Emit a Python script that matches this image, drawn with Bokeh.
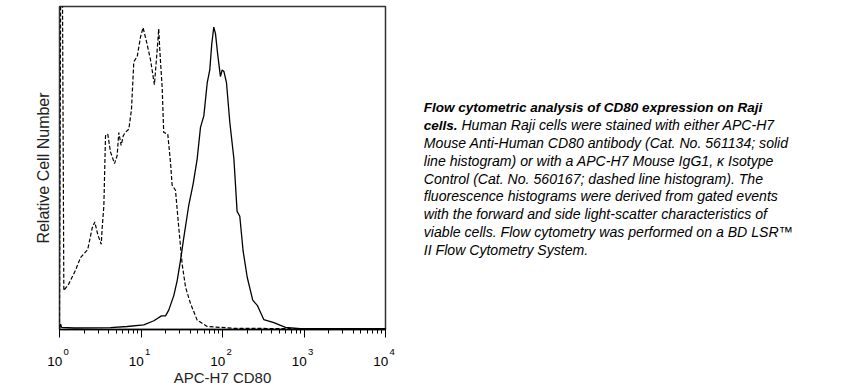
from bokeh.plotting import figure
from bokeh.models import Range1d, FixedTicker, ColumnDataSource, LogAxis
from bokeh.layouts import row
from bokeh.core.properties import value
from bokeh.embed import file_html
from bokeh.resources import INLINE

# ---- data ----
# solid histogram: APC-H7 CD80 stained
solid_x = [1.0, 1.03, 1.06, 1.5, 4.22, 6.77, 10.8, 14.4, 17.8, 20.0, 21.9, 25.3, 27.8, 30.5,
           33.5, 38.6, 43.7, 48.9, 53.7, 59.0, 64.9, 69.8, 73.9, 78.2, 82.0, 87.5, 94.4,
           99.1, 104, 112, 123, 138, 151, 163, 179, 201, 235, 267, 321, 426, 593, 906, 10000]
solid_y = [0, 1.5, 0.4, 0.2, 0.3, 0.7, 1.2, 2.6, 4.2, 4.2, 6.1, 11.0, 15.9, 22.5,
           30.1, 40.9, 48.0, 56.2, 66.6, 70.4, 81.3, 85.6, 94.3, 99.8, 97.6, 90.5, 83.4,
           85.6, 85.1, 81.3, 68.2, 56.2, 38.8, 37.2, 25.7, 17.0, 9.4, 7.7, 3.0, 2.0, 0.4, 0, 0]
# dashed histogram: isotype control
dash_x = [1.0, 1.04, 1.08, 1.13, 1.30, 1.57, 1.81, 2.22, 2.52, 2.71, 2.95, 3.25, 3.34, 3.50,
          3.67, 3.91, 4.22, 4.73, 5.10, 5.34, 5.71, 6.05, 6.46, 7.09, 7.64, 8.16, 8.98,
          9.86, 10.6, 11.7, 13.1, 14.6, 15.8, 16.5, 17.0, 18.2, 19.0, 21.3, 23.0, 24.1,
          26.5, 29.1, 32.0, 35.2, 40.5, 48.9, 64.9, 138, 560, 10000]
dash_y = [0, 130, 130, 12.6, 14.8, 19.3, 23.5, 26.2, 33.3, 35.3, 31.1, 27.9, 33.3, 40.5,
          63.8, 64.4, 58.5, 54.6, 57.3, 64.9, 60.6, 63.8, 65.0, 66.0, 72.5, 88.3, 90.0,
          96.5, 99.6, 94.9, 88.9, 80.7, 92.2, 99.2, 92.2, 79.6, 64.9, 64.4, 55.1, 47.5,
          45.8, 33.3, 21.3, 13.7, 8.3, 2.8, 0.7, 0.1, 0, 0]

major_ticks = [1, 10, 100, 1000, 10000]
tick_base = "10"
tick_exps = ["0", "1", "2", "3", "4"]
minor_ticks = [m * 10 ** k for k in range(4) for m in range(2, 10)]

caption_bold = ["Flow cytometric analysis of CD80 expression on Raji", "cells."]
caption_lines = [
    "Human Raji cells were stained with either APC-H7",
    "Mouse Anti-Human CD80 antibody (Cat. No. 561134; solid",
    "line histogram) or with a APC-H7 Mouse IgG1, \u03ba Isotype",
    "Control (Cat. No. 560167; dashed line histogram). The",
    "fluorescence histograms were derived from gated events",
    "with the forward and side light-scatter characteristics of",
    "viable cells. Flow cytometry was performed on a BD LSR\u2122",
    "II Flow Cytometry System.",
]

FONT = "Liberation Sans"

X0, X1 = 1, 10000
Y0, Y1 = -0.3, 106.6
FRAME_W, FRAME_H = 326, 327
TOP, BOTTOM = 6, 55
H = TOP + FRAME_H + BOTTOM

# non-collapsing spaces used to nudge the centred tick labels sideways
SUP_LEAD = "\u2003\u2009\u2009"   # pushes the exponent to the right of the tick
BASE_TRAIL = "\u2002\u2009"       # pushes "10" to the left of the tick

p = figure(width=408, height=H, x_axis_type="log",
           x_range=Range1d(X0, X1), y_range=Range1d(Y0, Y1),
           output_backend="svg", toolbar_location=None,
           min_border_left=59, min_border_right=23, min_border_top=TOP,
           min_border_bottom=BOTTOM)
p.grid.visible = False
p.outline_line_color = "#333333"
p.outline_line_width = 1.5
p.background_fill_color = "white"
p.border_fill_color = "white"

p.line(solid_x, solid_y, line_color="black", line_width=1.3)
p.line(dash_x, dash_y, line_color="black", line_width=1.2, line_dash="4 2")

# main axis: ticks only
xa = p.xaxis[0]
xa.ticker = FixedTicker(ticks=major_ticks, minor_ticks=minor_ticks)
xa.major_label_overrides = {t: "" for t in major_ticks}
xa.major_label_standoff = 0
xa.major_tick_out = 8
xa.major_tick_in = 0
xa.minor_tick_out = 4
xa.minor_tick_in = 0
xa.axis_line_color = "black"
xa.axis_line_width = 1.5
xa.major_tick_line_color = "black"
xa.minor_tick_line_color = "black"

# exponent labels (superscripts)
sup_axis = LogAxis(ticker=FixedTicker(ticks=major_ticks),
                   major_label_overrides={t: SUP_LEAD + e for t, e in zip(major_ticks, tick_exps)},
                   major_label_text_font=FONT, major_label_text_font_size="9.5px",
                   major_label_text_color="black", major_label_standoff=8,
                   major_tick_out=0, major_tick_in=0, minor_tick_out=0, minor_tick_in=0,
                   axis_line_color=None, major_tick_line_color=None,
                   minor_tick_line_color=None)
p.add_layout(sup_axis, "below")

# "10" labels + axis title
base_axis = LogAxis(ticker=FixedTicker(ticks=major_ticks),
                    major_label_overrides={t: tick_base + BASE_TRAIL for t in major_ticks},
                    major_label_text_font=FONT, major_label_text_font_size="13.5px",
                    major_label_text_color="black", major_label_standoff=-6,
                    major_tick_out=0, major_tick_in=0, minor_tick_out=0, minor_tick_in=0,
                    axis_line_color=None, major_tick_line_color=None,
                    minor_tick_line_color=None,
                    axis_label="APC-H7 CD80", axis_label_text_font=FONT,
                    axis_label_text_font_size="15px", axis_label_text_font_style="normal",
                    axis_label_text_color="#222222", axis_label_standoff=-3)
p.add_layout(base_axis, "below")

ya = p.yaxis[0]
ya.ticker = FixedTicker(ticks=[])
ya.major_tick_out = 0
ya.minor_tick_out = 0
ya.axis_line_color = None
ya.major_label_text_font_size = "0px"
ya.axis_label = "Relative Cell Number"
ya.axis_label_text_font = FONT
ya.axis_label_text_font_size = "16px"
ya.axis_label_text_font_style = "normal"
ya.axis_label_text_color = "#222222"
ya.axis_label_standoff = 8

# caption panel (frame aligned with the plot's frame)
W2 = 455
p2 = figure(width=W2, height=H, x_range=Range1d(0, W2), y_range=Range1d(FRAME_H, 0),
            output_backend="svg", toolbar_location=None,
            x_axis_location=None, y_axis_location=None,
            min_border_left=0, min_border_right=0,
            min_border_top=TOP, min_border_bottom=BOTTOM)
p2.grid.visible = False
p2.outline_line_color = None

x0 = 15.3
y0 = 108.3 - TOP
lh = 18
src_b = ColumnDataSource(dict(x=[x0, x0], y=[y0, y0 + lh], t=caption_bold))
p2.text("x", "y", "t", source=src_b, text_font=value(FONT), text_font_size="13.5px",
        text_font_style="bold italic", text_color="black", text_baseline="alphabetic")
xs = [52.9] + [x0] * (len(caption_lines) - 1)
ys = [y0 + lh * (i + 1) for i in range(len(caption_lines))]
src_i = ColumnDataSource(dict(x=xs, y=ys, t=caption_lines))
p2.text("x", "y", "t", source=src_i, text_font=value(FONT), text_font_size="14.1px",
        text_font_style="italic", text_color="black", text_baseline="alphabetic")

layout = row(p, p2)
open("out.html", "w").write(file_html(layout, INLINE))
